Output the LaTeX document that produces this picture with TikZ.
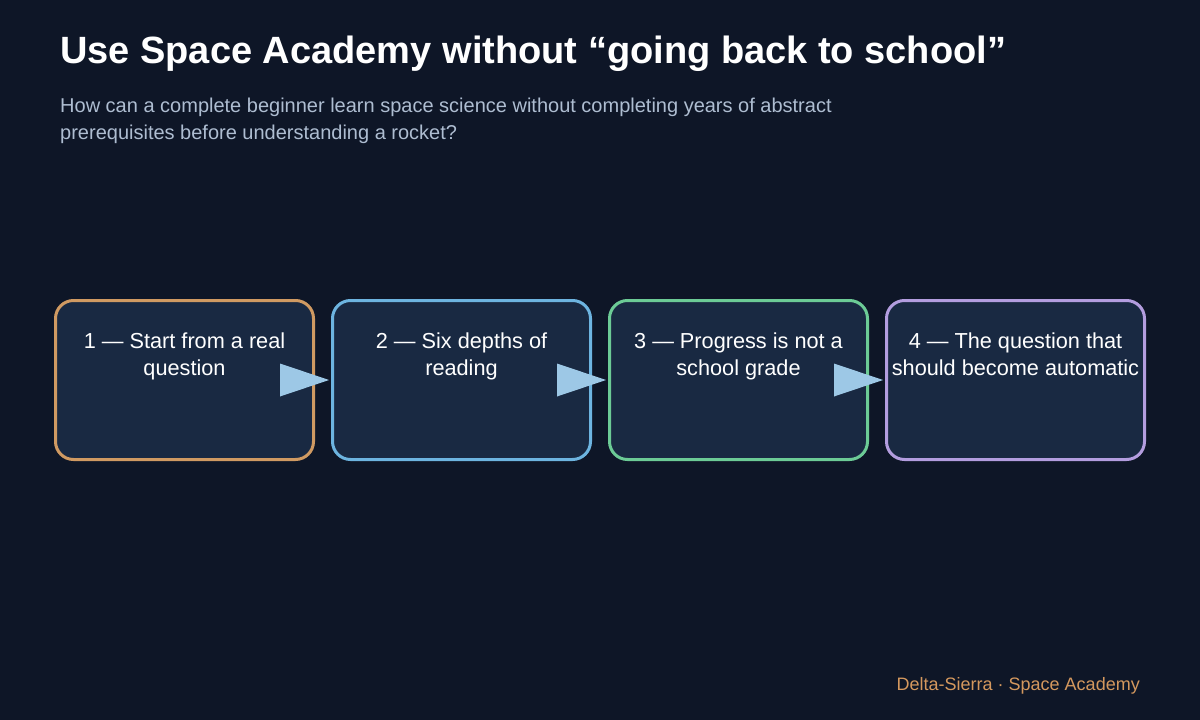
\documentclass[tikz,border=0pt]{standalone}
\usepackage{fontspec}
\setmainfont{Liberation Sans}
\usetikzlibrary{arrows.meta}
\definecolor{bg}{HTML}{0E1627}
\definecolor{boxfill}{HTML}{192942}
\definecolor{cA}{HTML}{D09A62}
\definecolor{cB}{HTML}{6DB4E0}
\definecolor{cC}{HTML}{6CCB96}
\definecolor{cD}{HTML}{B39DDF}
\definecolor{subc}{HTML}{AEBDD1}
\definecolor{arrc}{HTML}{9DC8E6}
\definecolor{foot}{HTML}{D4985E}
\begin{document}
\begin{tikzpicture}[x=1pt,y=-1pt,
  stepbox/.style={draw, line width=3pt, fill=boxfill, rounded corners=18pt,
    minimum width=258pt, minimum height=159pt, anchor=north west, inner sep=0pt, outer sep=0pt},
  boxtext/.style={text=white, align=center, anchor=base,
    font=\fontsize{21.7pt}{27pt}\selectfont, inner sep=0pt},
  subtext/.style={anchor=base west, text=subc, font=\fontsize{20pt}{27pt}\selectfont, inner sep=0pt}
]
\fill[bg] (0,0) rectangle (1200,720);
\useasboundingbox (0,0) rectangle (1200,720);

\node[anchor=base west, text=white, font=\fontsize{38pt}{42pt}\selectfont\bfseries, inner sep=0pt]
  (title) at (60,63) {Use Space Academy without “going back to school”};
\node[subtext] (sub1) at (60,112) {How can a complete beginner learn space science without completing years of abstract};
\node[subtext] (sub2) at (60,139) {prerequisites before understanding a rocket?};

\node[stepbox, draw=cA] (b1) at (55.5,300.5) {};
\node[stepbox, draw=cB] (b2) at (332.5,300.5) {};
\node[stepbox, draw=cC] (b3) at (609.5,300.5) {};
\node[stepbox, draw=cD] (b4) at (886.5,300.5) {};

\node[boxtext] (t1) at ([yshift=-74.5pt]b1.north) {1 — Start from a real\\question};
\node[boxtext] (t2) at ([yshift=-74.5pt]b2.north) {2 — Six depths of\\reading};
\node[boxtext] (t3) at ([yshift=-74.5pt]b3.north) {3 — Progress is not a\\school grade};
\node[boxtext] (t4) at ([yshift=-74.5pt]b4.north) {4 — The question that\\should become automatic};

\coordinate (a1) at ([xshift=-33.5pt]b1.east);
\coordinate (a2) at ([xshift=-33.5pt]b2.east);
\coordinate (a3) at ([xshift=-33.5pt]b3.east);
\fill[arrc] (a1) ++(0,-16.5) -- ++(49,16.5) -- ++(-49,16.5) -- cycle;
\fill[arrc] (a2) ++(0,-16.5) -- ++(49,16.5) -- ++(-49,16.5) -- cycle;
\fill[arrc] (a3) ++(0,-16.5) -- ++(49,16.5) -- ++(-49,16.5) -- cycle;

\node[anchor=base east, text=foot, font=\fontsize{18pt}{22pt}\selectfont, inner sep=0pt]
  (footer) at (1140,690) {Delta-Sierra · Space Academy};
\end{tikzpicture}
\end{document}
